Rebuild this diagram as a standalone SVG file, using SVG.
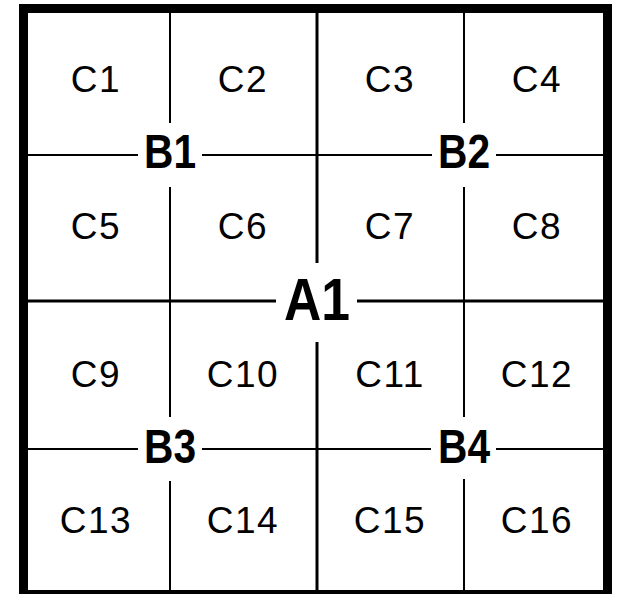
<svg xmlns="http://www.w3.org/2000/svg" width="626" height="594" viewBox="0 0 626 594">
<style>
.c{font-family:"Liberation Sans",Arial,sans-serif;font-size:37px;letter-spacing:1.5px;fill:#000;text-anchor:middle}
.b{font-family:"Liberation Sans",Arial,sans-serif;font-size:48px;font-weight:bold;fill:#000;text-anchor:middle}
.a{font-family:"Liberation Sans",Arial,sans-serif;font-size:60px;font-weight:bold;fill:#000;text-anchor:middle}
.thin{stroke:#000;stroke-width:2;fill:none}
.mid{stroke:#000;stroke-width:3;fill:none}
.mask{fill:#fff;stroke:none}
</style>
<rect x="0" y="0" width="626" height="594" fill="#fff"/>
<g id="connectors">
<line class="thin" x1="170" y1="13" x2="170" y2="590"/>
<line class="thin" x1="464" y1="13" x2="464" y2="590"/>
<line class="thin" x1="28" y1="155" x2="603" y2="155"/>
<line class="thin" x1="28" y1="449" x2="603" y2="449"/>
<line class="mid" x1="317" y1="13" x2="317" y2="590"/>
<line class="mid" x1="28" y1="301" x2="603" y2="301"/>
</g>
<rect x="23.5" y="8.5" width="584" height="586" fill="none" stroke="#000" stroke-width="9"/>
<g id="C1"><text class="c" x="96" y="92">C1</text></g>
<g id="C2"><text class="c" x="243" y="92">C2</text></g>
<g id="C3"><text class="c" x="390" y="92">C3</text></g>
<g id="C4"><text class="c" x="537" y="92">C4</text></g>
<g id="C5"><text class="c" x="96" y="239">C5</text></g>
<g id="C6"><text class="c" x="243" y="239">C6</text></g>
<g id="C7"><text class="c" x="390" y="239">C7</text></g>
<g id="C8"><text class="c" x="537" y="239">C8</text></g>
<g id="C9"><text class="c" x="96" y="387">C9</text></g>
<g id="C10"><text class="c" x="243" y="387">C10</text></g>
<g id="C11"><text class="c" x="390" y="387">C11</text></g>
<g id="C12"><text class="c" x="537" y="387">C12</text></g>
<g id="C13"><text class="c" x="96" y="533">C13</text></g>
<g id="C14"><text class="c" x="243" y="533">C14</text></g>
<g id="C15"><text class="c" x="390" y="533">C15</text></g>
<g id="C16"><text class="c" x="537" y="533">C16</text></g>
<g id="B1"><rect class="mask" x="138" y="123" width="64" height="64"/><text class="b" x="170" y="168" textLength="52" lengthAdjust="spacingAndGlyphs">B1</text></g>
<g id="B2"><rect class="mask" x="432" y="123" width="64" height="64"/><text class="b" x="464" y="168" textLength="52" lengthAdjust="spacingAndGlyphs">B2</text></g>
<g id="B3"><rect class="mask" x="138" y="417" width="64" height="64"/><text class="b" x="170" y="463" textLength="52" lengthAdjust="spacingAndGlyphs">B3</text></g>
<g id="B4"><rect class="mask" x="431" y="417" width="65" height="62"/><text class="b" x="464" y="463" textLength="52" lengthAdjust="spacingAndGlyphs">B4</text></g>
<g id="A1"><rect class="mask" x="276" y="263" width="81" height="79"/><text class="a" x="317" y="320" textLength="66" lengthAdjust="spacingAndGlyphs">A1</text></g>
</svg>
